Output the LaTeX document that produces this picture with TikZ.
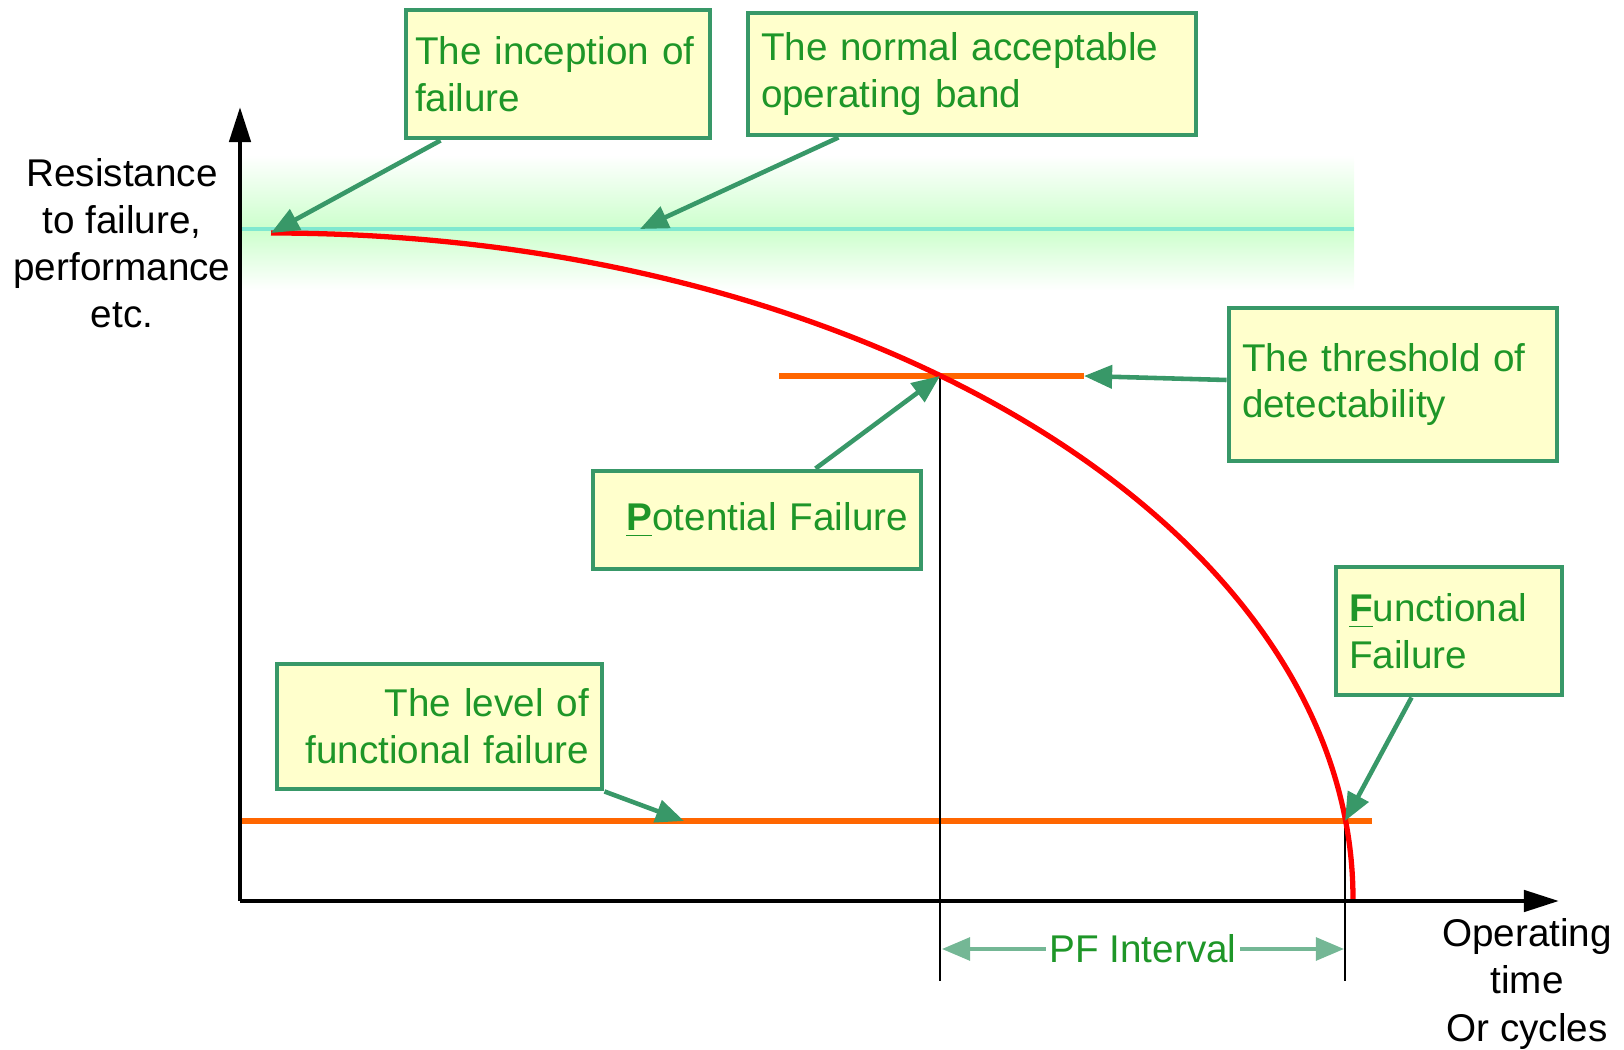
\documentclass[tikz,border=0pt]{standalone}
\usepackage{fontspec}
\setmainfont{Liberation Sans}
\usetikzlibrary{arrows.meta}
\definecolor{notegreen}{RGB}{56,152,104}
\definecolor{notetext}{RGB}{30,150,40}
\definecolor{notefill}{RGB}{255,255,204}
\definecolor{bandgreen}{RGB}{204,255,204}
\definecolor{bandline}{RGB}{128,232,208}
\definecolor{levelorange}{RGB}{255,102,0}

\begin{document}
\begin{tikzpicture}[
      >={Triangle[length=8pt,width=6.5pt]},
      notebox/.style={
          rectangle, draw=notegreen, fill=notefill, line width=1.4pt,
          text=notetext, font=\fontsize{11}{13.3}\selectfont,
          inner xsep=0.13cm, inner ysep=0pt
      },
      notearrow/.style={
          ->, draw=notegreen, line width=1.3pt
      },
      axisline/.style={
          line width=1.3pt, -{Triangle[length=10pt,width=6pt]}
      },
      levelline/.style={
          levelorange, line width=1.5pt
      },
      axislabel/.style={
          align=center, font=\fontsize{11}{13.4}\selectfont
      }
  ]
    \useasboundingbox (0,0) rectangle (16.24,10.50);

    % Key points
    \coordinate (origin) at (2.40,1.49);
    \coordinate (ytop) at (2.40,9.43);
    \coordinate (xend) at (15.59,1.49);
    \coordinate (start) at (2.71,8.17);
    \coordinate (pf) at (9.40,6.74);
    \coordinate (ff) at (13.45,2.29);
    \coordinate (bandpt) at (6.40,8.21);
    \coordinate (thrstart) at (7.79,6.74);
    \coordinate (thrend) at (10.84,6.74);
    \coordinate (levelstart) at (2.40,2.29);
    \coordinate (levelend) at (13.72,2.29);
    \coordinate (levelpt) at (6.84,2.29);
    \coordinate (pfdrop) at (9.40,0.69);
    \coordinate (ffdrop) at (13.45,0.69);
    \coordinate (pfleft) at (9.42,1.01);
    \coordinate (pfright) at (13.44,1.01);

    % Normal operating band
    \shade[top color=white, bottom color=bandgreen] (2.40,8.21) rectangle (13.54,8.95);
    \shade[top color=bandgreen, bottom color=white] (2.40,7.60) rectangle (13.54,8.21);
    \draw[bandline, line width=1pt] (2.40,8.21) -- (13.54,8.21);

    % Threshold and failure level
    \draw[levelline] (thrstart) -- (thrend);
    \draw[levelline] (levelstart) -- (levelend);

    % Drop lines
    \draw[line width=0.4pt] (pf) -- (pfdrop);
    \draw[line width=0.4pt] (ff) -- (ffdrop);

    % Failure curve
    \draw[red, line width=1.5pt] (start) arc[start angle=90, end angle=0, x radius=10.82cm, y radius=6.66cm];

    % Axes
    \draw[axisline] (origin) -- (ytop);
    \draw[axisline] (origin) -- (xend);
    \node[axislabel] (ylabel) at (1.22,8.065) {Resistance\\to failure,\\performance\\etc.};
    \node[axislabel] (xlabel) at (15.27,0.66) {Operating\\time\\Or cycles};

    % Notes
    \node[notebox, inner xsep=0.09cm, text width=2.86cm, minimum height=1.28cm, align=left] (inception) at (5.58,9.76) {The inception of\\failure};
    \node[notebox, text width=4.22cm, minimum height=1.22cm, align=left] (bandnote) at (9.72,9.76) {The normal acceptable\\operating band};
    \node[notebox, text width=3.02cm, minimum height=1.53cm, align=left] (threshold) at (13.93,6.655) {The threshold of\\detectability};
    \node[notebox, text width=3.02cm, minimum height=0.98cm, align=right] (potential) at (7.57,5.30) {\underline{\textbf{P}}otential Failure};
    \node[notebox, text width=2.00cm, minimum height=1.28cm, align=left] (functional) at (14.49,4.19) {\underline{\textbf{F}}unctional\\Failure};
    \node[notebox, text width=2.99cm, minimum height=1.25cm, align=right] (level) at (4.395,3.235) {The level of\\functional failure};

    % Note arrows
    \draw[notearrow] ([xshift=0.37cm]inception.south west) -- (start);
    \draw[notearrow] ([xshift=0.93cm]bandnote.south west) -- (bandpt);
    \draw[notearrow] ([yshift=0.045cm]threshold.west) -- (thrend);
    \draw[notearrow] ([xshift=2.25cm]potential.north west) -- (pf);
    \draw[notearrow] ([xshift=0.78cm]functional.south west) -- (ff);
    \draw[notearrow] (level.south east) -- (levelpt);

    % PF interval
    \draw[<->, notegreen!70, line width=1pt] (pfleft) -- node[fill=white, inner sep=1pt, text=notetext, font=\fontsize{11}{13.3}\selectfont] {PF Interval} (pfright);
  \end{tikzpicture}
\end{document}
